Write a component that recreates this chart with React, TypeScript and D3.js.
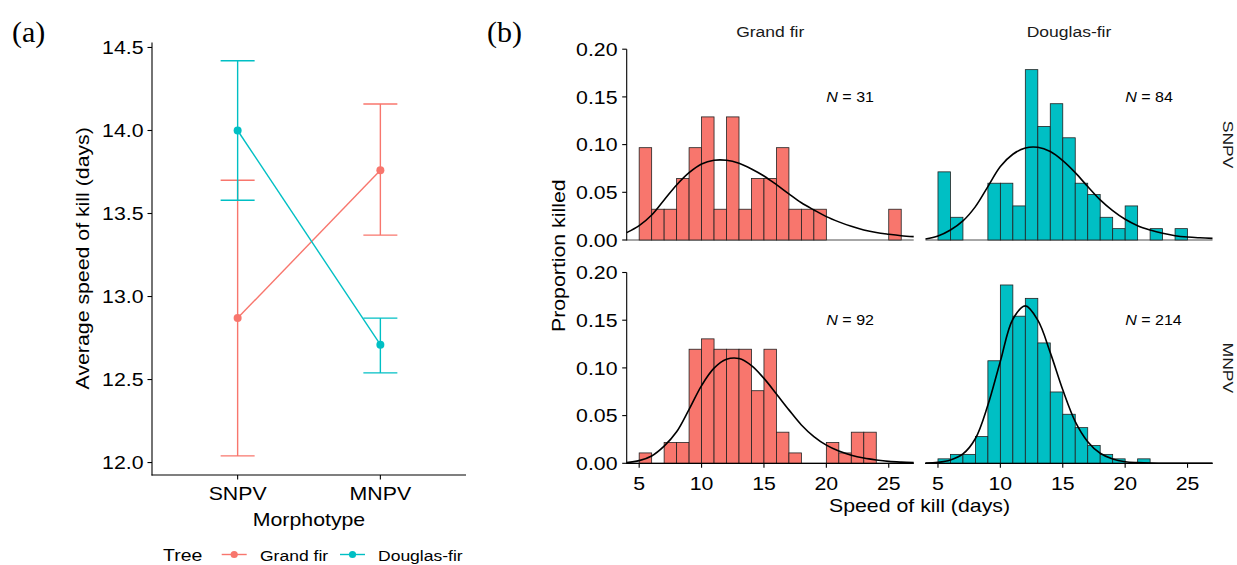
import React from "react";
import * as d3 from "d3";

// ---------- Panel (a) data ----------
const morphotypes = ["SNPV", "MNPV"];
const trees = ["Grand fir", "Douglas-fir"];
const treeColors = ["#F8766D", "#00BFC4"];
const meanGF = [12.87, 13.76];
const lowGF = [12.04, 13.37];
const highGF = [13.7, 14.16];
const meanDF = [14.0, 12.71];
const lowDF = [13.58, 12.54];
const highDF = [14.42, 12.87];
const yTicksA = [12.0, 12.5, 13.0, 13.5, 14.0, 14.5];

// ---------- Panel (b) data ----------
const binStarts = [5, 6, 7, 8, 9, 10, 11, 12, 13, 14, 15, 16, 17, 18, 19, 20, 21, 22, 23, 24, 25];
const countsGF_SNPV = [3, 1, 1, 2, 3, 4, 1, 4, 1, 2, 2, 3, 1, 1, 1, 0, 0, 0, 0, 0, 1];
const countsDF_SNPV = [6, 2, 0, 0, 5, 5, 3, 15, 10, 12, 9, 5, 4, 2, 1, 3, 0, 1, 0, 1, 0];
const countsGF_MNPV = [1, 0, 2, 2, 11, 12, 11, 11, 11, 7, 11, 3, 1, 0, 0, 2, 1, 3, 3, 0, 0];
const countsDF_MNPV = [1, 2, 2, 6, 23, 40, 33, 37, 27, 16, 11, 8, 4, 2, 1, 0, 1, 0, 0, 0, 0];
const sampleN = [31, 84, 92, 214];

const curveX = [4, 5, 6, 7, 8, 9, 10, 11, 12, 13, 14, 15, 16, 17, 18, 19, 20, 21, 22, 23, 24, 25, 26, 27];
const densGF_SNPV = [0.0077, 0.015, 0.0262, 0.042, 0.0577, 0.0706, 0.0797, 0.0836, 0.0836, 0.0804, 0.0745, 0.0671, 0.058, 0.0483, 0.039, 0.0315, 0.0245, 0.019, 0.0143, 0.0105, 0.0078, 0.006, 0.0045, 0.0035];
const densDF_SNPV = [0.001, 0.0042, 0.0105, 0.02, 0.035, 0.056, 0.077, 0.0899, 0.0965, 0.0972, 0.0927, 0.0832, 0.0706, 0.056, 0.042, 0.0308, 0.0217, 0.015, 0.0105, 0.007, 0.0045, 0.0031, 0.0023, 0.0017];
const densGF_MNPV = [0.0007, 0.0028, 0.0077, 0.018, 0.033, 0.0566, 0.0815, 0.0997, 0.109, 0.1098, 0.1024, 0.089, 0.0727, 0.056, 0.0402, 0.028, 0.019, 0.0128, 0.0085, 0.0055, 0.0035, 0.002, 0.0012, 0.0007];
const densDF_MNPV = [0.0003, 0.001, 0.0035, 0.0098, 0.026, 0.061, 0.107, 0.151, 0.165, 0.15, 0.116, 0.077, 0.0437, 0.0227, 0.0105, 0.0045, 0.0017, 0.0007, 0.0002, 0.0001, 0, 0, 0, 0];

const xTicksB = [5, 10, 15, 20, 25];
const yTicksB = [0, 0.05, 0.1, 0.15, 0.2];
const rowLabels = ["SNPV", "MNPV"];
const colLabels = ["Grand fir", "Douglas-fir"];
const nLabelPos = [20, 0.15];

// ---------- layout ----------
const SX = 1.145;
const SANS = "'Liberation Sans', Arial, Helvetica, sans-serif";
const SERIF = "'Liberation Serif', 'DejaVu Serif', serif";

function Txt(props: any) {
  const { x, y, size, anchor = "start", rotate = 0, fill = "#000", children } = props;
  return (
    <text
      transform={`translate(${x},${y}) rotate(${rotate}) scale(${SX},1)`}
      fontSize={size}
      textAnchor={anchor}
      dy="0.36em"
      fill={fill}
      fontFamily={SANS}
    >
      {children}
    </text>
  );
}

export default function App() {
  // Panel (a)
  const xA = d3.scalePoint<string>().domain(morphotypes).range([152, 466]).padding(0.6);
  const yA = d3.scaleLinear().domain([11.925, 14.53]).range([475, 42.5]);
  const seriesA = trees.map((t, i) => ({
    tree: t,
    color: treeColors[i],
    mean: i === 0 ? meanGF : meanDF,
    low: i === 0 ? lowGF : lowDF,
    high: i === 0 ? highGF : highDF,
  }));
  const lineA = d3
    .line<number>()
    .x((_, j) => xA(morphotypes[j]) as number)
    .y((d) => yA(d));

  // Panel (b)
  const colX = [
    [626.7, 913.7],
    [925.5, 1212.5],
  ];
  const rowY = [
    [240, 49.2],
    [463.3, 272.5],
  ];
  const facets = [
    { row: 0, col: 0, counts: countsGF_SNPV, n: sampleN[0], dens: densGF_SNPV, color: treeColors[0] },
    { row: 0, col: 1, counts: countsDF_SNPV, n: sampleN[1], dens: densDF_SNPV, color: treeColors[1] },
    { row: 1, col: 0, counts: countsGF_MNPV, n: sampleN[2], dens: densGF_MNPV, color: treeColors[0] },
    { row: 1, col: 1, counts: countsDF_MNPV, n: sampleN[3], dens: densDF_MNPV, color: treeColors[1] },
  ];

  return (
    <svg
      width={1237}
      height={565}
      style={{ position: "absolute", left: 0, top: 0, background: "#fff" }}
    >
      <rect x={0} y={0} width={1237} height={565} fill="#fff" />

      {/* ---------- Panel (a) ---------- */}
      <text x={12} y={42} fontSize={30} fontFamily={SERIF} fill="#000">
        (a)
      </text>
      {seriesA.map((s) => (
        <g key={s.tree}>
          {morphotypes.map((m, j) => {
            const cx = xA(m) as number;
            return (
              <g key={m} stroke={s.color} strokeWidth={1.4}>
                <line x1={cx} x2={cx} y1={yA(s.low[j])} y2={yA(s.high[j])} />
                <line x1={cx - 17} x2={cx + 17} y1={yA(s.low[j])} y2={yA(s.low[j])} />
                <line x1={cx - 17} x2={cx + 17} y1={yA(s.high[j])} y2={yA(s.high[j])} />
              </g>
            );
          })}
          <path d={lineA(s.mean) || ""} fill="none" stroke={s.color} strokeWidth={1.4} />
          {morphotypes.map((m, j) => (
            <circle key={m} cx={xA(m) as number} cy={yA(s.mean[j])} r={4} fill={s.color} />
          ))}
        </g>
      ))}
      {/* axes */}
      <line x1={152} x2={152} y1={42.5} y2={475.5} stroke="#000" strokeWidth={1.1} />
      <line x1={151.5} x2={466} y1={475} y2={475} stroke="#000" strokeWidth={1.1} />
      {yTicksA.map((t) => (
        <g key={t}>
          <line x1={147.5} x2={152} y1={yA(t)} y2={yA(t)} stroke="#000" strokeWidth={1.1} />
          <Txt x={143.5} y={yA(t)} size={18.6} anchor="end">
            {t.toFixed(1)}
          </Txt>
        </g>
      ))}
      {morphotypes.map((m) => (
        <g key={m}>
          <line x1={xA(m) as number} x2={xA(m) as number} y1={475} y2={479.5} stroke="#000" strokeWidth={1.1} />
          <Txt x={xA(m) as number} y={493.3} size={18.6} anchor="middle">
            {m}
          </Txt>
        </g>
      ))}
      <Txt x={309} y={519} size={18.6} anchor="middle">
        Morphotype
      </Txt>
      <Txt x={81.8} y={258.3} size={18.6} anchor="middle" rotate={-90}>
        Average speed of kill (days)
      </Txt>

      {/* legend */}
      <Txt x={163} y={555} size={17}>
        Tree
      </Txt>
      {trees.map((t, i) => {
        const kx = [221.7, 340][i];
        const tx = [260, 378][i];
        return (
          <g key={t}>
            <line x1={kx} x2={kx + 25} y1={554.5} y2={554.5} stroke={treeColors[i]} strokeWidth={1.4} />
            <circle cx={kx + 12.5} cy={554.5} r={3.6} fill={treeColors[i]} />
            <Txt x={tx} y={555} size={15.3}>
              {t}
            </Txt>
          </g>
        );
      })}

      {/* ---------- Panel (b) ---------- */}
      <text x={487} y={42} fontSize={30} fontFamily={SERIF} fill="#000">
        (b)
      </text>
      {facets.map((f) => {
        const xs = d3.scaleLinear().domain([4, 27]).range(colX[f.col]);
        const ys = d3.scaleLinear().domain([0, 0.2]).range(rowY[f.row]);
        const curve = d3
          .line<number>()
          .x((_, j) => xs(curveX[j]))
          .y((d) => ys(d))
          .curve(d3.curveCatmullRom.alpha(0.5));
        const y0 = ys(0);
        return (
          <g key={`${f.row}-${f.col}`}>
            <line x1={colX[f.col][0]} x2={colX[f.col][1]} y1={y0} y2={y0} stroke="#222" strokeWidth={0.8} />
            {f.counts.map((c, i) =>
              c > 0 ? (
                <rect
                  key={i}
                  x={xs(binStarts[i])}
                  y={ys(c / f.n)}
                  width={xs(binStarts[i] + 1) - xs(binStarts[i])}
                  height={y0 - ys(c / f.n)}
                  fill={f.color}
                  stroke="#222"
                  strokeWidth={0.8}
                />
              ) : null
            )}
            <path d={curve(f.dens) || ""} fill="none" stroke="#000" strokeWidth={1.6} />
            <text
              transform={`translate(${xs(nLabelPos[0])},${ys(nLabelPos[1])}) scale(${SX},1)`}
              fontSize={14}
              dy="0.36em"
              fontFamily={SANS}
              fill="#000"
            >
              <tspan fontStyle="italic">N</tspan>
              <tspan> = {f.n}</tspan>
            </text>
            {/* y axis on left column */}
            {f.col === 0 && (
              <g>
                <line x1={colX[0][0]} x2={colX[0][0]} y1={rowY[f.row][1]} y2={rowY[f.row][0] + 0.5} stroke="#000" strokeWidth={1.1} />
                {yTicksB.map((t) => (
                  <g key={t}>
                    <line x1={colX[0][0] - 4.5} x2={colX[0][0]} y1={ys(t)} y2={ys(t)} stroke="#000" strokeWidth={1.1} />
                    <Txt x={617.5} y={ys(t)} size={18.6} anchor="end">
                      {t.toFixed(2)}
                    </Txt>
                  </g>
                ))}
              </g>
            )}
            {/* x axis on bottom row */}
            {f.row === 1 && (
              <g>
                <line x1={colX[f.col][0] - 0.5} x2={colX[f.col][1]} y1={y0} y2={y0} stroke="#000" strokeWidth={1.3} />
                {xTicksB.map((t) => (
                  <g key={t}>
                    <line x1={xs(t)} x2={xs(t)} y1={y0} y2={y0 + 4.5} stroke="#000" strokeWidth={1.1} />
                    <Txt x={xs(t)} y={483.3} size={18.6} anchor="middle">
                      {t}
                    </Txt>
                  </g>
                ))}
              </g>
            )}
          </g>
        );
      })}
      {colLabels.map((c, i) => (
        <Txt key={c} x={(colX[i][0] + colX[i][1]) / 2} y={31} size={15.3} anchor="middle" fill="#1a1a1a">
          {c}
        </Txt>
      ))}
      {rowLabels.map((r, i) => (
        <Txt key={r} x={1228.3} y={(rowY[i][0] + rowY[i][1]) / 2} size={15.3} anchor="middle" rotate={90} fill="#1a1a1a">
          {r}
        </Txt>
      ))}
      <Txt x={558.5} y={255.7} size={18.6} anchor="middle" rotate={-90}>
        Proportion killed
      </Txt>
      <Txt x={919.5} y={505.5} size={18.6} anchor="middle">
        Speed of kill (days)
      </Txt>
    </svg>
  );
}
